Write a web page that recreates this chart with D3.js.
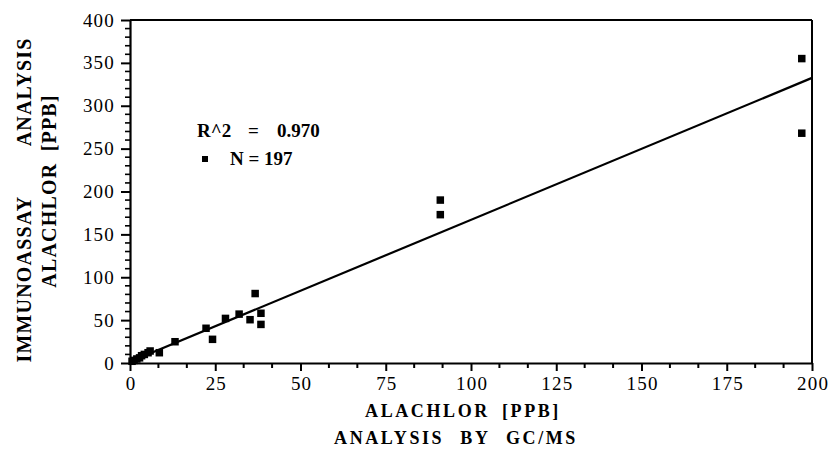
<!DOCTYPE html>
<html>
<head>
<meta charset="utf-8">
<script src="https://cdn.jsdelivr.net/npm/d3@7"></script>
<style>
  body { margin: 0; background: #fff; }
  svg { display: block; font-family: "Liberation Serif", "DejaVu Serif", serif; }
</style>
</head>
<body>
<div id="chart"></div>
<script>
// values (many of the 197 samples overlap near the origin)
var gcms  = [0.6, 1.2, 2, 2.8, 3.4, 4.2, 5.3, 5.9, 8.6, 13.2, 22.3, 24.2, 28, 32, 35.2, 36.7, 38.4, 38.4, 91, 91, 197, 197];
var immuno = [2, 3, 4.7, 6, 8.5, 10, 12, 14, 12, 24.8, 40.5, 27.6, 52, 57, 50.5, 81, 58, 45, 173, 190, 268, 355];
var fitX = [0, 200];
var fitY = [1.5, 332.5];
var xTicks = [0, 25, 50, 75, 100, 125, 150, 175, 200];
var yTicks = [0, 50, 100, 150, 200, 250, 300, 350, 400];
var r2Parts = ["R^2", "=", "0.970"];
var nText = "N = 197";

var width = 831, height = 456;
var margin = { top: 20, right: 19, bottom: 93, left: 130 };

var svg = d3.select("#chart").append("svg")
    .attr("width", width)
    .attr("height", height);

var x = d3.scaleLinear().domain([0, 200]).range([margin.left, width - margin.right]);
var y = d3.scaleLinear().domain([0, 400]).range([height - margin.bottom, margin.top]);

// minor ticks
var xMinor = d3.range(0, 200.01, 25 / 3).filter(v => Math.abs(v % 25) > 0.5 && Math.abs(v % 25 - 25) > 0.5);
var yMinor = d3.range(0, 401, 10).filter(v => v % 50 !== 0);

svg.append("g")
    .selectAll("line")
    .data(xMinor)
    .join("line")
    .attr("x1", d => x(d)).attr("x2", d => x(d))
    .attr("y1", y(0)).attr("y2", y(0) + 5)
    .attr("stroke", "#000").attr("stroke-width", 2);

svg.append("g")
    .selectAll("line")
    .data(yMinor)
    .join("line")
    .attr("x1", x(0) - 5).attr("x2", x(0) + 1)
    .attr("y1", d => y(d)).attr("y2", d => y(d))
    .attr("stroke", "#000").attr("stroke-width", 1.6);

// axes
var xAxis = svg.append("g")
    .attr("transform", `translate(0,${y(0)})`)
    .call(d3.axisBottom(x).tickValues(xTicks).tickSize(8).tickSizeOuter(0).tickPadding(6));
var yAxis = svg.append("g")
    .attr("transform", `translate(${x(0)},0)`)
    .call(d3.axisLeft(y).tickValues(yTicks).tickSize(9).tickSizeOuter(0).tickPadding(7));

[xAxis, yAxis].forEach(g => {
    g.attr("font-family", null).style("font-family", "'Liberation Serif', serif");
    g.select(".domain").attr("stroke-width", 2.2);
    g.selectAll(".tick line").attr("stroke-width", 2);
    g.selectAll(".tick text")
        .style("font-family", "'Liberation Serif', serif")
        .attr("font-size", 19)
        .attr("letter-spacing", 1.2)
        .attr("fill", "#000");
});
yAxis.selectAll(".tick text").attr("dx", 1);
xAxis.selectAll(".tick text").attr("dx", 0.6);

// frame top and right
svg.append("line")
    .attr("x1", x(0)).attr("x2", x(200))
    .attr("y1", y(400)).attr("y2", y(400))
    .attr("stroke", "#000").attr("stroke-width", 2);
svg.append("line")
    .attr("x1", x(200)).attr("x2", x(200))
    .attr("y1", y(400)).attr("y2", y(0))
    .attr("stroke", "#000").attr("stroke-width", 2);

// regression line
svg.append("line")
    .attr("x1", x(fitX[0])).attr("y1", y(fitY[0]))
    .attr("x2", x(fitX[1])).attr("y2", y(fitY[1]))
    .attr("stroke", "#000").attr("stroke-width", 2.2);

// points
var sq = 7.5;
svg.append("g")
    .selectAll("rect")
    .data(gcms.map((d, i) => [d, immuno[i]]))
    .join("rect")
    .attr("x", d => x(d[0]) - sq / 2)
    .attr("y", d => y(d[1]) - sq / 2)
    .attr("width", sq).attr("height", sq)
    .attr("fill", "#000");

// annotation
var r2 = svg.append("text")
    .attr("y", 137)
    .attr("font-size", 19).attr("font-weight", "bold");
r2.selectAll("tspan")
    .data(r2Parts)
    .join("tspan")
    .attr("x", (d, i) => [197, 248, 277][i])
    .text(d => d);
svg.append("rect")
    .attr("x", 202).attr("y", 156)
    .attr("width", 6).attr("height", 6)
    .attr("fill", "#000");
svg.append("text")
    .attr("x", 230).attr("y", 165)
    .attr("font-size", 19).attr("font-weight", "bold")
    .text(nText);

// axis titles
var xTitle = svg.append("text")
    .attr("text-anchor", "middle")
    .attr("font-size", 18).attr("font-weight", "bold")
    .attr("letter-spacing", 2.6);
xTitle.append("tspan").attr("x", 463).attr("y", 417).attr("word-spacing", 5).text("ALACHLOR [PPB]");
xTitle.append("tspan").attr("x", 456).attr("y", 444).attr("word-spacing", 9).text("ANALYSIS BY GC/MS");

var yTitle = svg.append("text")
    .attr("text-anchor", "middle")
    .attr("font-size", 20).attr("font-weight", "bold")
    .attr("letter-spacing", 1.2)
    .attr("transform", "rotate(-90)");
yTitle.append("tspan").attr("x", -200).attr("y", 31).attr("word-spacing", 45).text("IMMUNOASSAY ANALYSIS");
yTitle.append("tspan").attr("x", -191).attr("y", 56).attr("word-spacing", 5).text("ALACHLOR [PPB]");
</script>
</body>
</html>
